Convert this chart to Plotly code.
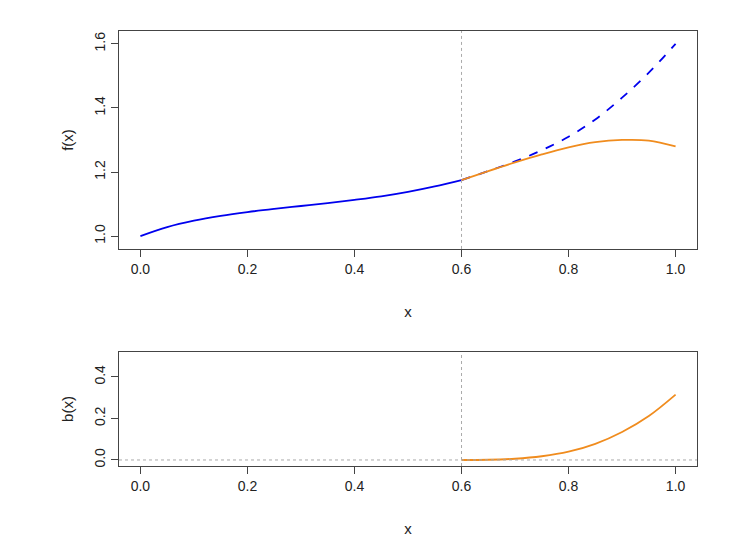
import plotly.graph_objects as go
from plotly.subplots import make_subplots

# f(x) left part (solid blue)
x_left = [0.0, 0.05, 0.1, 0.15, 0.2, 0.25, 0.3, 0.35, 0.4, 0.45, 0.5, 0.55, 0.6]
f_left = [1.0, 1.028, 1.048, 1.063, 1.075, 1.085, 1.094, 1.103, 1.113, 1.124, 1.138, 1.155, 1.175]

# f(x) right part, true curve (dashed blue)
x_right = [0.6, 0.65, 0.7, 0.75, 0.8, 0.85, 0.9, 0.95, 1.0]
f_dash = [1.175, 1.203, 1.233, 1.268, 1.31, 1.364, 1.432, 1.51, 1.6]

# approximation (orange)
f_orange = [1.175, 1.203, 1.23, 1.255, 1.277, 1.293, 1.30, 1.298, 1.28]

# b(x)
b_vals = [0.0, 0.001, 0.006, 0.018, 0.04, 0.078, 0.135, 0.212, 0.315]

blue = "#0000ee"
orange = "#f08c1e"

fig = make_subplots(rows=2, cols=1)
fig.add_trace(go.Scatter(x=x_left, y=f_left, mode="lines", line=dict(color=blue, width=1.8, shape="spline")), 1, 1)
fig.add_trace(go.Scatter(x=x_right, y=f_dash, mode="lines", line=dict(color=blue, width=1.8, dash="dash", shape="spline")), 1, 1)
fig.add_trace(go.Scatter(x=x_right, y=f_orange, mode="lines", line=dict(color=orange, width=1.8, shape="spline")), 1, 1)
fig.add_trace(go.Scatter(x=x_right, y=b_vals, mode="lines", line=dict(color=orange, width=1.8, shape="spline")), 2, 1)

fig.add_vline(x=0.6, line=dict(color="#aaaaaa", width=1, dash="dot"), row=1, col=1)
fig.add_vline(x=0.6, line=dict(color="#aaaaaa", width=1, dash="dot"), row=2, col=1)
fig.add_hline(y=0, line=dict(color="#aaaaaa", width=1, dash="dot"), row=2, col=1)

ax = dict(showline=True, mirror=True, linecolor="#444", linewidth=1, ticks="outside",
          ticklen=7, tickcolor="#444", showgrid=False, zeroline=False,
          tickfont=dict(size=14, color="#222"))
ticks_x = [0.0, 0.2, 0.4, 0.6, 0.8, 1.0]
fig.update_xaxes(**ax, range=[-0.04, 1.04], tickvals=ticks_x, ticktext=["0.0", "0.2", "0.4", "0.6", "0.8", "1.0"],
                 title=dict(text="x", font=dict(size=15, color="#222"), standoff=30))
fig.update_yaxes(**ax, tickangle=-90)
fig.update_yaxes(range=[0.96, 1.64], tickvals=[1.0, 1.2, 1.4, 1.6], ticktext=["1.0", "1.2", "1.4", "1.6"],
                 title=dict(text="f(x)", font=dict(size=15, color="#222")), row=1, col=1)
fig.update_yaxes(range=[-0.029, 0.52], tickvals=[0.0, 0.2, 0.4], ticktext=["0.0", "0.2", "0.4"],
                 title=dict(text="b(x)", font=dict(size=15, color="#222")), row=2, col=1)
fig.update_layout(
    width=743, height=547, showlegend=False,
    margin=dict(l=111, r=54, t=23, b=89),
    plot_bgcolor="white", paper_bgcolor="white",
    font=dict(family="Liberation Sans, Arial, sans-serif"),
    yaxis=dict(domain=[0.499, 1.0]), yaxis2=dict(domain=[0.0, 0.262]),
)
fig.write_html("out.html")
